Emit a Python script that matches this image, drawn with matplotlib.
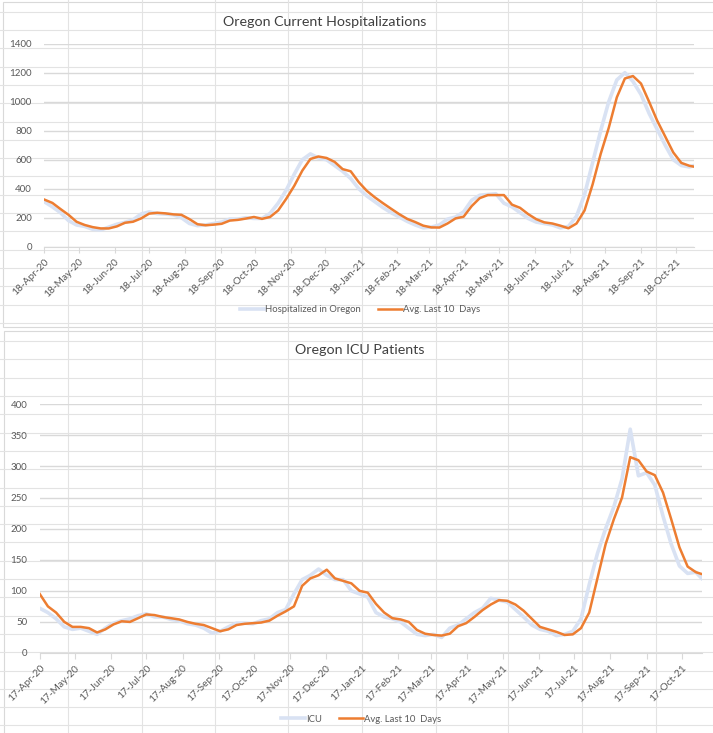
import pandas as pd
import matplotlib.pyplot as plt
import matplotlib.dates as mdates
from matplotlib.patches import Rectangle

# ----------------------------------
# 1) Data (one value per week)
# ----------------------------------
hosp_start = "2020-04-18"
hosp_days = list(range(0, 561, 7)) + [564]
hosp_raw = [310, 275, 235, 180, 150, 140, 120, 115, 135, 155, 168, 185, 225, 240,
            228, 225, 220, 200, 160, 145, 150, 160, 170, 190, 190, 200, 195, 195,
            230, 300, 390, 500, 600, 640, 612, 600, 560, 520, 470, 400, 350, 310,
            270, 235, 205, 175, 150, 130, 135, 150, 190, 205, 240, 320, 355, 360,
            365, 300, 275, 235, 195, 170, 160, 150, 130, 140, 210, 360, 580, 800,
            1000, 1150, 1200, 1140, 1050, 920, 810, 700, 600, 560, 550, 560]
hosp_avg = [325, 302, 260, 220, 172, 150, 135, 126, 126, 140, 165, 172, 195, 228,
            234, 230, 223, 220, 190, 155, 148, 152, 158, 180, 185, 194, 205, 192,
            205, 250, 330, 420, 525, 605, 622, 612, 585, 535, 520, 445, 385, 340,
            300, 262, 225, 192, 170, 145, 133, 132, 160, 195, 207, 280, 335, 356,
            356, 356, 290, 268, 225, 190, 168, 160, 145, 127, 160, 250, 430, 640,
            820, 1030, 1160, 1177, 1125, 1000, 870, 760, 650, 578, 558, 552]

icu_start = "2020-04-17"
icu_days = list(range(0, 561, 7)) + [565]
icu_raw = [72, 65, 55, 42, 38, 40, 35, 30, 40, 48, 52, 55, 60, 63, 58, 58, 54, 52,
           47, 45, 40, 32, 35, 42, 48, 48, 47, 52, 55, 65, 70, 95, 118, 125, 135,
           125, 118, 118, 100, 95, 90, 65, 58, 55, 50, 40, 30, 28, 30, 25, 40, 45,
           55, 65, 72, 88, 85, 82, 70, 58, 45, 38, 35, 28, 30, 35, 55, 110, 160,
           200, 235, 280, 360, 285, 290, 270, 220, 175, 140, 128, 130, 120]
icu_avg = [95, 75, 65, 50, 42, 42, 40, 33, 38, 46, 51, 50, 56, 62, 61, 58, 56, 54,
           50, 47, 45, 40, 35, 38, 45, 47, 48, 49, 52, 60, 67, 75, 108, 120, 125,
           134, 120, 116, 112, 100, 97, 79, 65, 56, 54, 50, 37, 31, 29, 28, 31, 43,
           48, 58, 69, 78, 85, 84, 78, 68, 55, 42, 38, 34, 29, 30, 40, 65, 120, 175,
           215, 250, 315, 310, 292, 286, 258, 215, 170, 139, 130, 127]

hosp_dates = pd.Timestamp(hosp_start) + pd.to_timedelta(hosp_days, unit="D")
icu_dates = pd.Timestamp(icu_start) + pd.to_timedelta(icu_days, unit="D")

RAW_COLOR = "#d9e2f3"
AVG_COLOR = "#ed7d31"
GRID = "#d9d9d9"
TEXT = "#595959"
W, H = 713, 733

plt.rcParams["font.family"] = ["Lato", "DejaVu Sans"]

fig = plt.figure(figsize=(W / 100, H / 100), dpi=100)

# ----------------------------------
# 2) Spreadsheet background + chart areas
# ----------------------------------
bg = fig.add_axes([0, 0, 1, 1])
bg.set_xlim(0, W)
bg.set_ylim(H, 0)
bg.axis("off")
for x in [68, 142, 215, 288, 362, 436, 508, 582, 656]:
    bg.axvline(x, color="#e3e3e3", lw=0.8)
for k in range(41):
    bg.axhline(11.7 + 18.3 * k, color="#e3e3e3", lw=0.8)
bg.add_patch(Rectangle((3, 2), 720, 325, facecolor="white", edgecolor=GRID, lw=0.8))
bg.add_patch(Rectangle((4, 331), 720, 410, facecolor="white", edgecolor=GRID, lw=0.8))


def px_axes(left, top, right, bottom):
    return fig.add_axes([left / W, 1 - bottom / H, (right - left) / W, (bottom - top) / H])


def style_axes(ax, ymax, ystep, day):
    ax.set_ylim(0, ymax)
    ax.set_yticks(range(0, ymax + 1, ystep))
    ax.yaxis.grid(True, color=GRID, lw=1)
    ax.set_axisbelow(True)
    for side in ["top", "right", "left"]:
        ax.spines[side].set_visible(False)
    ax.spines["bottom"].set_color(GRID)
    ax.tick_params(axis="y", length=0, pad=9, labelsize=7, labelcolor=TEXT)
    ax.tick_params(axis="x", length=4, color=GRID, labelsize=7.3, labelcolor=TEXT)
    ax.xaxis.set_major_locator(mdates.MonthLocator(bymonthday=day))
    ax.xaxis.set_major_formatter(mdates.DateFormatter("%d-%b-%y"))
    plt.setp(ax.get_xticklabels(), rotation=45, ha="right", rotation_mode="anchor")
    ax.patch.set_alpha(0)


# ----------------------------------
# 3) Top chart -> current hospitalizations
# ----------------------------------
ax1 = px_axes(44.3, 43.7, 694, 246.7)
ax1.plot(hosp_dates, hosp_raw, color=RAW_COLOR, lw=2.6, label="Hospitalized in Oregon")
ax1.plot(hosp_dates, hosp_avg, color=AVG_COLOR, lw=1.8, label="Avg. Last 10  Days")
ax1.set_xlim(hosp_dates[0], hosp_dates[-1])
style_axes(ax1, 1400, 200, 18)
fig.text(325 / W, 1 - 22 / H, "Oregon Current Hospitalizations", ha="center", va="center",
         fontsize=10.3, color="#404040")
fig.legend(handles=ax1.get_lines(), loc="center", bbox_to_anchor=(360 / W, 1 - 310 / H),
           ncol=2, frameon=False, fontsize=6.8, labelcolor=TEXT, handlelength=2.6,
           handletextpad=0.1, columnspacing=1.8)

# ----------------------------------
# 4) Bottom chart -> ICU patients
# ----------------------------------
ax2 = px_axes(39.7, 404.3, 701.7, 653)
ax2.plot(icu_dates, icu_raw, color=RAW_COLOR, lw=2.6, label="ICU")
ax2.plot(icu_dates, icu_avg, color=AVG_COLOR, lw=1.8, label="Avg. Last 10  Days")
ax2.set_xlim(icu_dates[0], icu_dates[-1])
style_axes(ax2, 400, 50, 17)
fig.text(360 / W, 1 - 350 / H, "Oregon ICU Patients", ha="center", va="center",
         fontsize=10.3, color="#404040")
fig.legend(handles=ax2.get_lines(), loc="center", bbox_to_anchor=(361 / W, 1 - 719 / H),
           ncol=2, frameon=False, fontsize=6.8, labelcolor=TEXT, handlelength=2.6,
           handletextpad=0.1, columnspacing=1.8)

fig.savefig("out.png", dpi=100)
plt.close(fig)
print("Chart saved: out.png")
